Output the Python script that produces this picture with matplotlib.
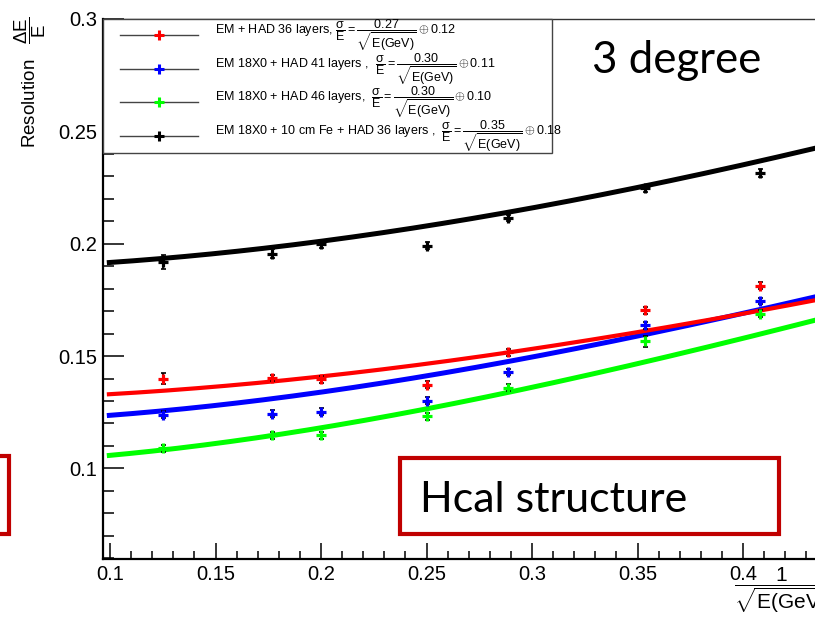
import numpy as np
import matplotlib
matplotlib.use("Agg")
from matplotlib import pyplot as plt
from matplotlib.patches import Rectangle
from matplotlib.lines import Line2D

plt.rcParams['font.family'] = ['Liberation Sans', 'DejaVu Sans']
plt.rcParams['mathtext.fontset'] = 'custom'
plt.rcParams['mathtext.rm'] = 'Liberation Sans'
plt.rcParams['mathtext.it'] = 'Liberation Sans'
plt.rcParams['mathtext.bf'] = 'Liberation Sans:bold'

# x = 1/sqrt(E), E = 64, 32, 25, 16, 12, 8, 6 GeV
x_pts = [0.125, 0.1768, 0.2, 0.25, 0.2887, 0.3536, 0.4082]

names = ["EM + HAD 36 layers, ", "EM 18X0 + HAD 41 layers ,  ",
         "EM 18X0 + HAD 46 layers,  ", "EM 18X0 + 10 cm Fe + HAD 36 layers ,  "]
colors = ["#ff0000", "#0000ff", "#00ff00", "#000000"]
stoch = ["0.27", "0.30", "0.30", "0.35"]
const = ["0.12", "0.11", "0.10", "0.18"]

res_red = [0.1400, 0.1403, 0.1396, 0.1373, 0.1516, 0.1704, 0.1813]
res_blue = [0.1240, 0.1244, 0.1252, 0.1302, 0.1429, 0.1637, 0.1745]
res_green = [0.1089, 0.1147, 0.1147, 0.1232, 0.1360, 0.1566, 0.1689]
res_black = [0.1918, 0.1956, 0.2000, 0.1992, 0.2114, 0.2246, 0.2314]
res = [res_red, res_blue, res_green, res_black]

err_red = [0.0025, 0.0015, 0.0015, 0.0015, 0.0015, 0.0015, 0.0015]
err_blue = [0.0015, 0.0015, 0.0015, 0.0015, 0.0015, 0.0015, 0.0015]
err_green = [0.0015, 0.0015, 0.0015, 0.0015, 0.0015, 0.0025, 0.0015]
err_black = [0.0030, 0.0020, 0.0018, 0.0015, 0.0015, 0.0015, 0.0018]
errs = [err_red, err_blue, err_green, err_black]

# fitted curves  sigma/E = a/sqrt(E) (+) b
fit_a = [0.2685, 0.2976, 0.3026, 0.3516]
fit_b = [0.1303, 0.1200, 0.1014, 0.1884]

W, H = 815, 622
fig = plt.figure(figsize=(W / 100, H / 100), dpi=100)


def fx(px):
    return px / W


def fy(py):
    return 1 - py / H


ax_l, ax_t, ax_b, ax_r = 103, 19, 559, 848.5
ax = fig.add_axes([fx(ax_l), fy(ax_b), fx(ax_r - ax_l), (ax_b - ax_t) / H])
ax.set_xlim(0.09668, 0.45)
ax.set_ylim(0.0597, 0.3)

xf = np.linspace(0.0985, 0.45, 200)
for i in [3, 2, 1, 0]:
    lw = 3.0 if i == 0 else 3.6
    ax.plot(xf, np.sqrt((fit_a[i] * xf) ** 2 + fit_b[i] ** 2), color=colors[i], lw=lw,
            solid_capstyle='butt', zorder=2)
for i in range(4):
    ax.errorbar(x_pts, res[i], yerr=errs[i], fmt='none', ecolor='black', elinewidth=1.2,
                capsize=1.8, capthick=1.2, zorder=3)
    ax.plot(x_pts, res[i], ls='none', marker='+', ms=7.5, mew=2.3, color=colors[i], zorder=4)

ax.set_xticks(np.arange(0.1, 0.451, 0.05))
ax.set_xticklabels(["0.1", "0.15", "0.2", "0.25", "0.3", "0.35", "0.4", "0.45"])
ax.set_xticks(np.arange(0.1, 0.45, 0.01), minor=True)
ax.set_yticks([0.1, 0.15, 0.2, 0.25, 0.3])
ax.set_yticklabels(["0.1", "0.15", "0.2", "0.25", "0.3"])
ax.set_yticks(np.arange(0.06, 0.3, 0.01), minor=True)
ax.tick_params(axis='x', which='major', direction='in', length=11.5, width=1.1, pad=4, labelsize=14.5)
ax.tick_params(axis='x', which='minor', direction='in', length=5.8, width=1.1)
ax.tick_params(axis='y', which='major', direction='in', length=15, width=1.1, pad=4, labelsize=14.5)
ax.tick_params(axis='y', which='minor', direction='in', length=7.7, width=1.1)
for s in ['left', 'bottom']:
    ax.spines[s].set_linewidth(1.6)
ax.spines['top'].set_linewidth(1.0)
ax.spines['top'].set_color('#333333')

# axis titles
fig.text(fx(30), fy(17), r"Resolution   $\dfrac{\Delta E}{E}$", rotation=90, ha='center', va='top',
         fontsize=13.5)
fig.text(fx(734), fy(565), r"$\dfrac{1}{\sqrt{E(GeV)}}$", ha='left', va='top', fontsize=15)

# legend box
fig.patches.append(Rectangle((fx(103), fy(153)), fx(552 - 103), (153 - 19) / H,
                             transform=fig.transFigure, fill=True, facecolor='white',
                             edgecolor='#444444', lw=1.0, zorder=5))
rows = [35, 69, 102, 136]
for i in range(4):
    fig.lines.append(Line2D([fx(120), fx(198)], [fy(rows[i])] * 2, transform=fig.transFigure,
                            color='#444444', lw=1.0, zorder=6))
    fig.lines.append(Line2D([fx(159)], [fy(rows[i])], transform=fig.transFigure, ls='none',
                            marker='+', ms=7, mew=2.2, color=colors[i], zorder=7))
    lab = names[i] + r"$\dfrac{\sigma}{E} = \dfrac{" + stoch[i] + r"}{\sqrt{E(GeV)}} \oplus " + const[i] + "$"
    fig.text(fx(215), fy(rows[i]), lab, ha='left', va='center', fontsize=9, zorder=8)

# slide annotations
fig.text(fx(592), fy(73), "3 degree", fontfamily='Lato', fontsize=31.5, ha='left', va='baseline')
fig.patches.append(Rectangle((fx(400), fy(534)), fx(379), 76 / H, transform=fig.transFigure,
                             fill=True, facecolor='white', edgecolor='#c00000', lw=3, zorder=5))
fig.text(fx(420), fy(512), "Hcal structure", fontfamily='Lato', fontsize=31, ha='left',
         va='baseline', zorder=6)
fig.patches.append(Rectangle((fx(-60), fy(534)), fx(69), 78 / H, transform=fig.transFigure,
                             fill=False, edgecolor='#c00000', lw=3, zorder=5))

fig.savefig("out.png", dpi=100)
